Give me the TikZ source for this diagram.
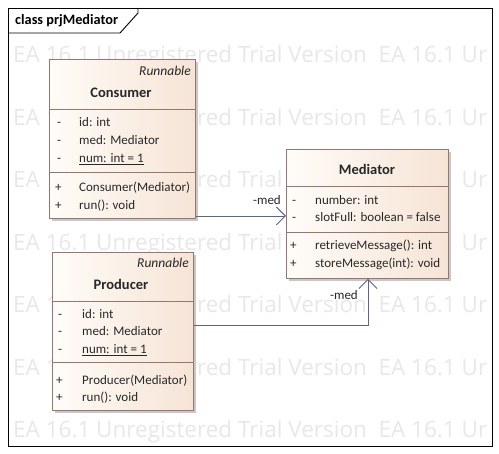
\documentclass[tikz,border=0pt]{standalone}
\usepackage{fontspec}
\setmainfont{Carlito}
\newfontfamily\wmfont{Open Sans}
\usetikzlibrary{arrows.meta}
\definecolor{boxborder}{RGB}{150,118,112}
\definecolor{boxlight}{RGB}{255,252,248}
\definecolor{boxdark}{RGB}{246,228,214}
\definecolor{shadowgray}{RGB}{200,200,200}
\definecolor{linkblue}{RGB}{90,100,140}
\definecolor{wm}{RGB}{232,232,232}
\definecolor{txt}{RGB}{40,40,40}
\tikzset{
  classbox/.style={draw=boxborder, line width=0.9pt, left color=boxlight, right color=boxdark, shading angle=90, rectangle, inner sep=0pt, anchor=north west},
  shadowbox/.style={fill=shadowgray, draw=none, rectangle, inner sep=0pt, anchor=north west},
  sep/.style={draw=boxborder, line width=0.9pt},
  stereo/.style={font=\fontsize{13.5}{13.5}\selectfont\itshape, text=txt, anchor=base east, inner sep=0pt},
  cname/.style={font=\fontsize{14.5}{14.5}\selectfont\bfseries, text=txt, anchor=base, inner sep=0pt},
  vis/.style={font=\fontsize{13}{13}\selectfont, text=txt, anchor=base west, inner sep=0pt},
  member/.style={font=\fontsize{13}{13}\selectfont, text=txt, anchor=base west, inner sep=0pt},
  link/.style={draw=linkblue, line width=0.9pt, -{Straight Barb[length=9pt, width=18pt, line width=0.9pt]}},
  rolelabel/.style={font=\fontsize{13}{13}\selectfont, text=txt, inner sep=0pt, anchor=base east},
  watermark/.style={font=\wmfont\fontsize{22.5}{22.5}\selectfont, text=wm, anchor=base west, inner sep=0pt},
}
\begin{document}
\begin{tikzpicture}[x=1pt, y=-1pt]
\useasboundingbox (0,0) rectangle (499,454);
\fill[white] (0,0) rectangle (499,454);
% watermark rows
\foreach \yy/\nm in {63/wa,125.5/wb,188/wc,250.5/wd,313/we,375.5/wf,438/wg}{
  \node[watermark] (\nm) at (13,\yy) {EA 16.1 Unregistered Trial Version\ \ EA 16.1 Ur};
}
% frame
\draw[black, line width=0.9pt] (8,8) rectangle (492,446);
\draw[black, line width=0.9pt] (8,33) -- (120,33) -- (138,13) -- (138,8);
\node[font=\fontsize{14.3}{14.3}\selectfont\bfseries, anchor=base west, inner sep=0pt] (title) at (15,24.5) {class prjMediator};

% Consumer
\node[shadowbox, minimum width=146pt, minimum height=159pt] (conssh) at (52,62) {};
\node[classbox, minimum width=146pt, minimum height=159pt] (cons) at (49,59) {};
\node[stereo] (consst) at (191,76) {Runnable};
\node[cname] (consnm) at (121,98) {Consumer};
\draw[sep] (49,109) -- (195,109);
\node[vis] (cv1) at (57,127) {-};
\node[member] (cm1) at (79,127) {id: int};
\node[vis] (cv2) at (57,145) {-};
\node[member] (cm2) at (79,145) {med: Mediator};
\node[vis] (cv3) at (57,163) {-};
\node[member] (cm3) at (79,163) {\underline{num: int = 1}};
\draw[sep] (49,172) -- (195,172);
\node[vis] (cv4) at (55,192) {+};
\node[member] (cm4) at (79,192) {Consumer(Mediator)};
\node[vis] (cv5) at (55,210) {+};
\node[member] (cm5) at (79,210) {run(): void};

% Producer
\node[shadowbox, minimum width=141pt, minimum height=158pt] (prodsh) at (55,255) {};
\node[classbox, minimum width=141pt, minimum height=158pt] (prod) at (52,252) {};
\node[stereo] (prodst) at (189,268) {Runnable};
\node[cname] (prodnm) at (121,290) {Producer};
\draw[sep] (52,301) -- (193,301);
\node[vis] (pv1) at (58,319) {-};
\node[member] (pm1) at (82,319) {id: int};
\node[vis] (pv2) at (58,336) {-};
\node[member] (pm2) at (82,336) {med: Mediator};
\node[vis] (pv3) at (58,354) {-};
\node[member] (pm3) at (82,354) {\underline{num: int = 1}};
\draw[sep] (52,362) -- (193,362);
\node[vis] (pv4) at (56,385) {+};
\node[member] (pm4) at (82,385) {Producer(Mediator)};
\node[vis] (pv5) at (56,402) {+};
\node[member] (pm5) at (82,402) {run(): void};

% Mediator
\node[shadowbox, minimum width=162pt, minimum height=129pt] (medsh) at (289,152) {};
\node[classbox, minimum width=162pt, minimum height=129pt] (med) at (286,149) {};
\node[cname] (mednm) at (367,175) {Mediator};
\draw[sep] (286,186) -- (448,186);
\node[vis] (mv1) at (292,205) {-};
\node[member] (mm1) at (315,205) {number: int};
\node[vis] (mv2) at (292,222) {-};
\node[member] (mm2) at (315,222) {slotFull: boolean = false};
\draw[sep] (286,232) -- (448,232);
\node[vis] (mv3) at (290,250) {+};
\node[member] (mm3) at (315,250) {retrieveMessage(): int};
\node[vis] (mv4) at (290,268) {+};
\node[member] (mm4) at (315,268) {storeMessage(int): void};

% connectors
\coordinate (c1s) at (cons.east |- 0,216);
\coordinate (c1e) at (med.west |- 0,216);
\draw[link] (c1s) -- (c1e);
\node[rolelabel] (r1) at (281,205) {-med};
\coordinate (c2s) at (prod.east |- 0,325);
\coordinate (c2e) at (368,0 |- med.south);
\draw[link] (c2s) -| (c2e);
\node[rolelabel] (r2) at (358,300) {-med};
\end{tikzpicture}
\end{document}
